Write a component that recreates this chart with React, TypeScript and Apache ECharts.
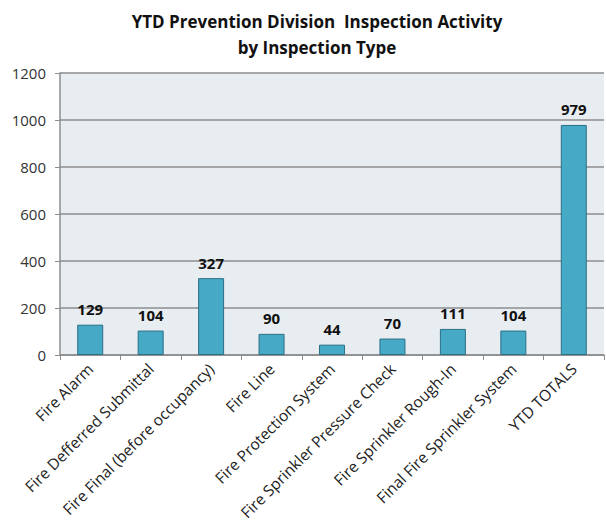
import React, { useEffect, useRef } from "react";
import * as echarts from "echarts";

const categories = [
  "Fire Alarm",
  "Fire Defferred Submittal",
  "Fire Final (before occupancy)",
  "Fire Line",
  "Fire Protection System",
  "Fire Sprinkler Pressure Check",
  "Fire Sprinkler Rough-In",
  "Final Fire Sprinkler System",
  "YTD TOTALS",
];
const values = [129, 104, 327, 90, 44, 70, 111, 104, 979];
const titleLines = ["YTD Prevention Division  Inspection Activity", "by Inspection Type"];

export default function App() {
  const ref = useRef<HTMLDivElement>(null);
  useEffect(() => {
    const chart = echarts.init(ref.current!, null, { renderer: "svg" });
    const font = "'Open Sans', 'Noto Sans', sans-serif";
    chart.setOption({
      animation: false,
      backgroundColor: "#ffffff",
      title: {
        text: titleLines.join("\n"),
        left: 312,
        textAlign: "center",
        top: 3,
        textStyle: {
          fontFamily: font,
          fontSize: 17,
          fontWeight: "bold",
          color: "#111",
          lineHeight: 26,
        },
      },
      grid: {
        left: 60,
        right: 2,
        top: 73,
        bottom: 172,
        show: true,
        backgroundColor: "#e8edf2",
        borderWidth: 0,
      },
      xAxis: {
        type: "category",
        data: categories,
        axisLine: { show: true, lineStyle: { color: "#8c8c8c", width: 1.5 } },
        axisTick: { show: true, alignWithLabel: false, length: 5, lineStyle: { color: "#8c8c8c" } },
        axisLabel: {
          rotate: 45,
          interval: 0,
          fontFamily: font,
          fontSize: 15.5,
          color: "#222",
          margin: 11,
        },
      },
      yAxis: {
        type: "value",
        min: 0,
        max: 1200,
        interval: 200,
        axisLine: { show: true, lineStyle: { color: "#8c8c8c", width: 1.5 } },
        axisTick: { show: true, length: 5, lineStyle: { color: "#8c8c8c" } },
        splitLine: { show: true, lineStyle: { color: "#8c8c8c", width: 1.5 } },
        axisLabel: {
          fontFamily: font,
          fontSize: 15,
          color: "#333",
          margin: 14,
          formatter: (v: number) => String(v),
        },
      },
      series: [
        {
          type: "bar",
          data: values,
          barWidth: "43%",
          itemStyle: { color: "#46a9c6", borderColor: "#2a6f84", borderWidth: 1 },
          label: {
            show: true,
            position: "top",
            distance: 8,
            fontFamily: font,
            fontSize: 15,
            fontWeight: "bold",
            color: "#111",
          },
        },
      ],
    });
    return () => chart.dispose();
  }, []);
  return (
    <div
      ref={ref}
      style={{ position: "fixed", left: 0, top: 0, width: 606, height: 527 }}
    />
  );
}
